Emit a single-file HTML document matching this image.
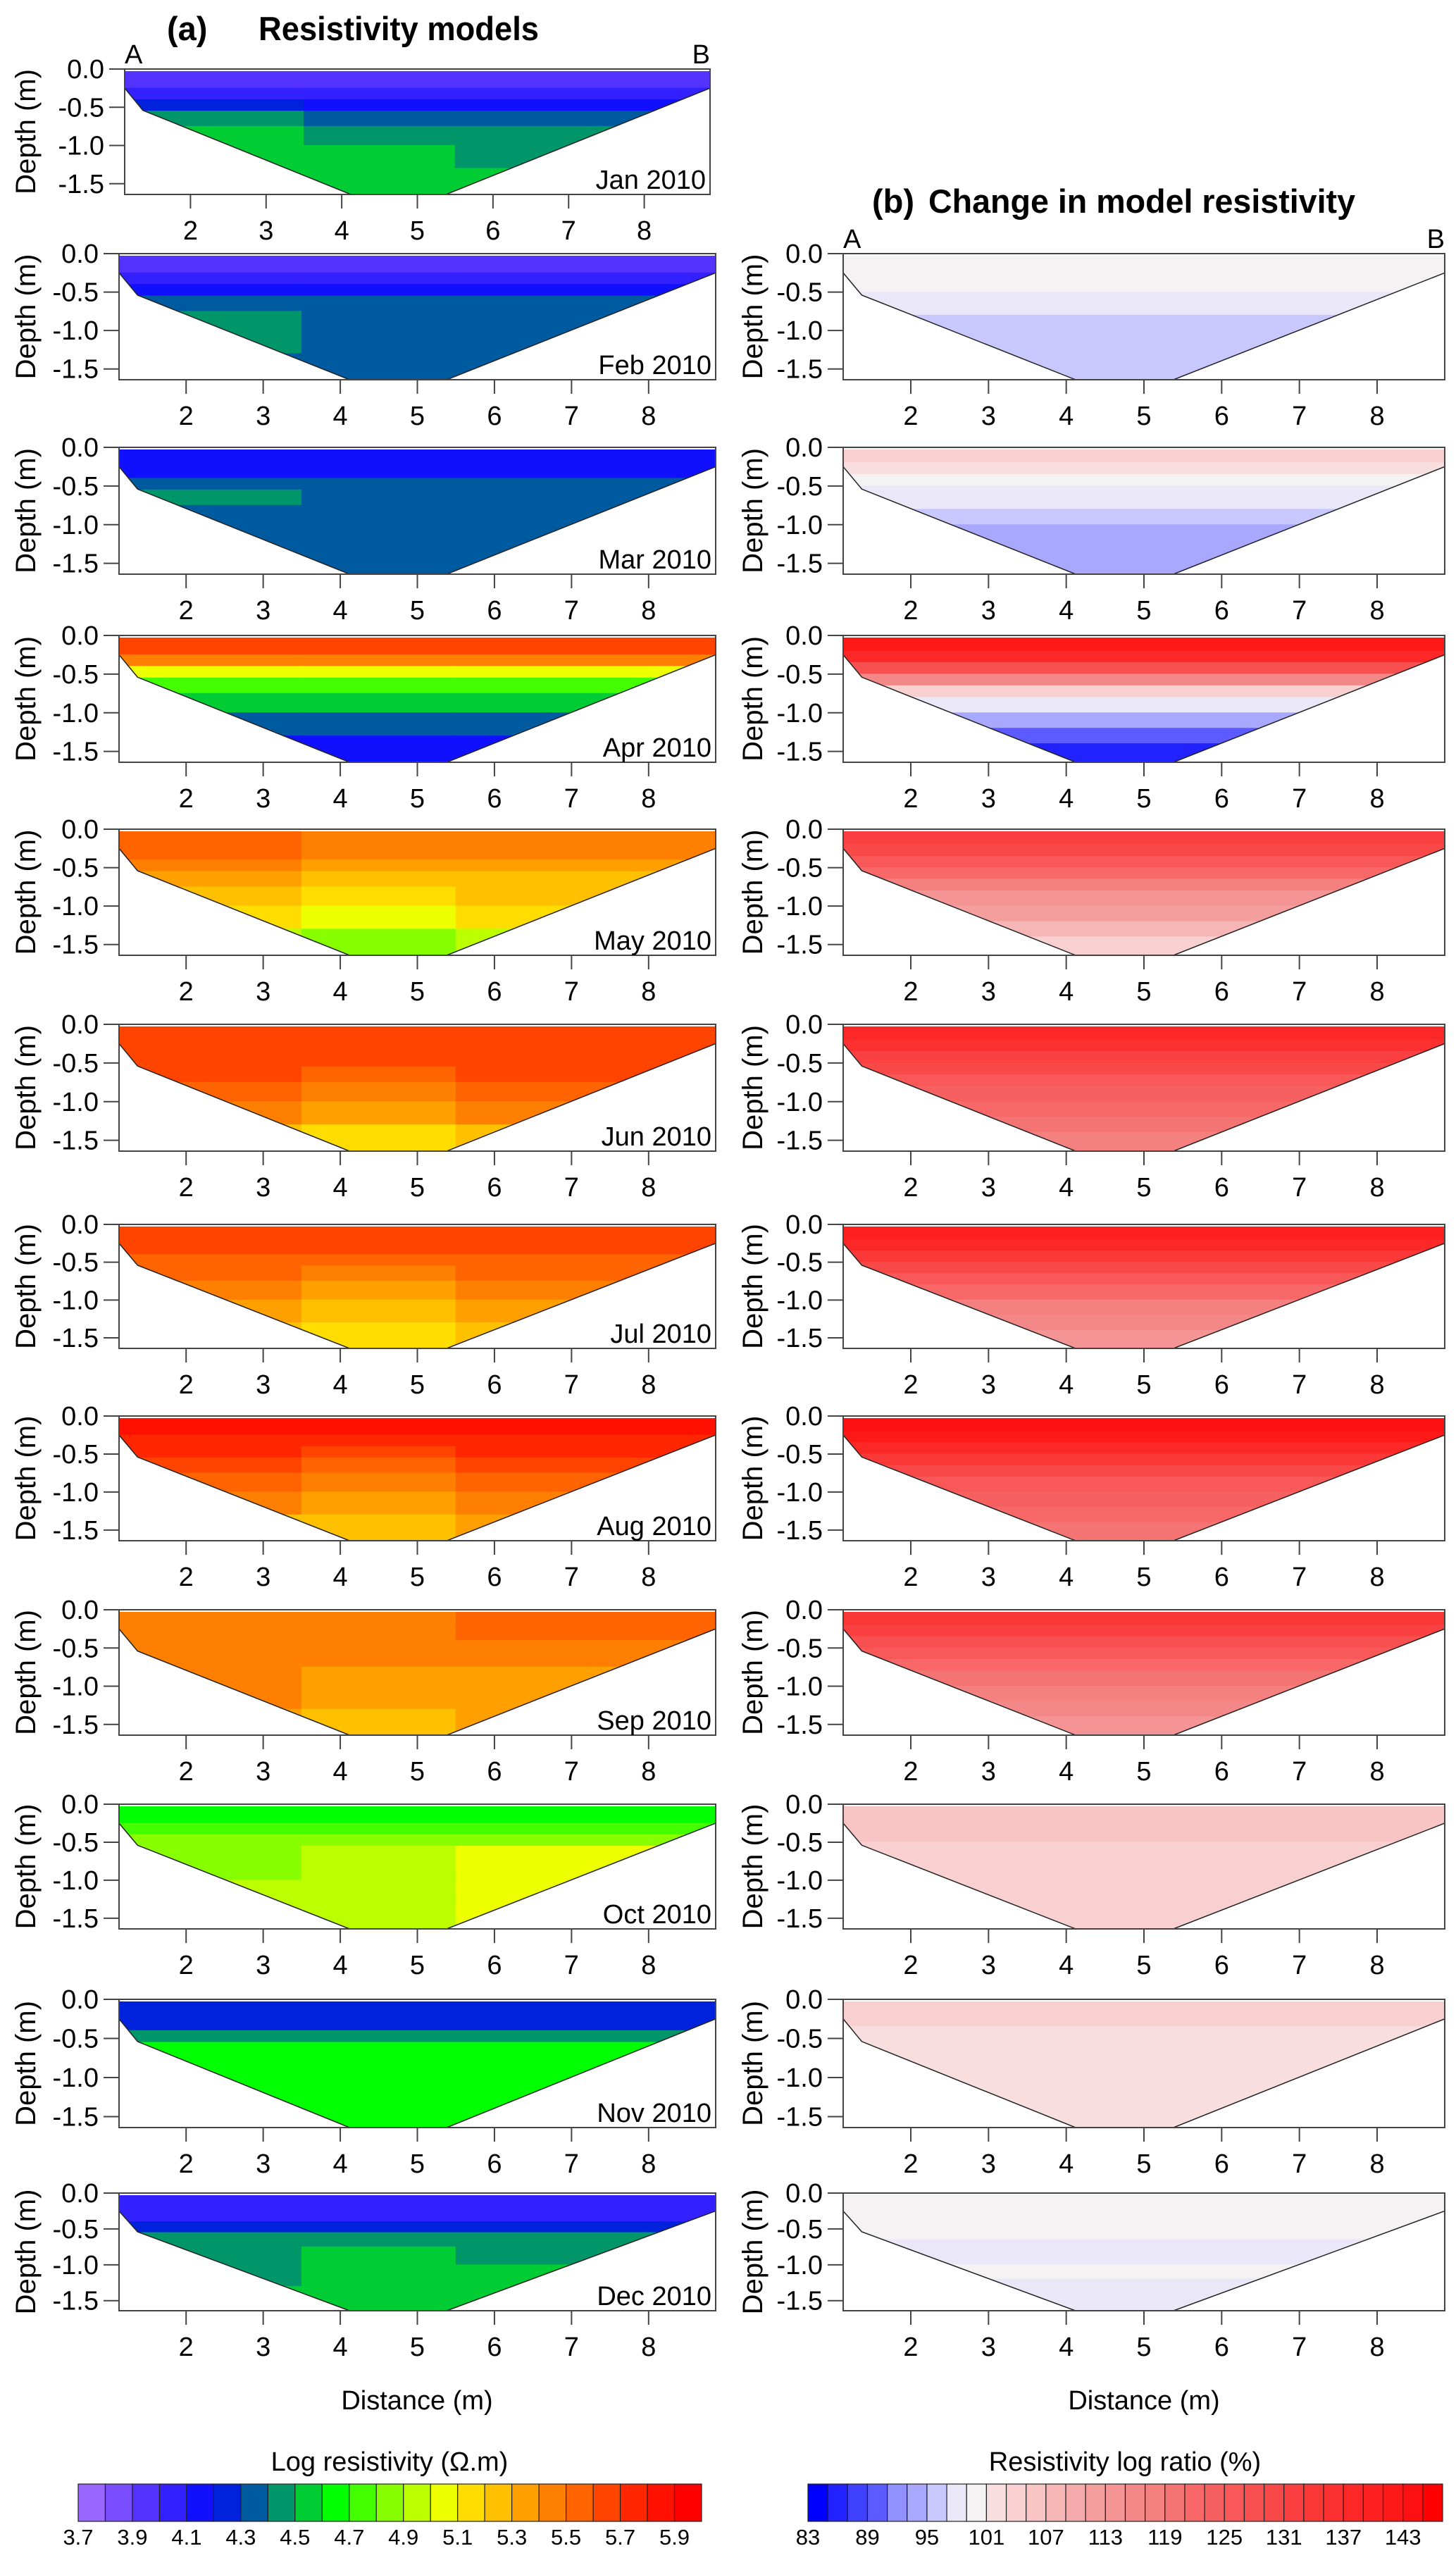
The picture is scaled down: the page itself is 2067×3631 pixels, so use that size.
<!DOCTYPE html>
<html><head><meta charset="utf-8"><style>
html,body{margin:0;padding:0;background:#fff;}
svg{display:block;font-family:"Liberation Sans",Arial,sans-serif;}
</style></head><body>
<svg id="fig" width="2067" height="3631" viewBox="0 0 2067 3631" xmlns="http://www.w3.org/2000/svg">
<text x="237" y="57" font-size="47" font-weight="bold">(a)</text>
<text x="367" y="57" font-size="47" font-weight="bold" textLength="398" lengthAdjust="spacingAndGlyphs">Resistivity models</text>
<text x="1238" y="302" font-size="47" font-weight="bold">(b)</text>
<text x="1318" y="302" font-size="47" font-weight="bold" textLength="606" lengthAdjust="spacingAndGlyphs">Change in model resistivity</text>
<g id="panels"></g>
</svg>
<script>
// ---- data ----
const months = ["Jan 2010","Feb 2010","Mar 2010","Apr 2010","May 2010","Jun 2010","Jul 2010","Aug 2010","Sep 2010","Oct 2010","Nov 2010","Dec 2010"];
const xTicks = [2,3,4,5,6,7,8];
const yTicks = [0.0,-0.5,-1.0,-1.5];
const yTickLabels = ["0.0","-0.5","-1.0","-1.5"];
const xDomain = [1.13, 8.87];
const depthMax = 1.64;
const outlineX = [1.13, 1.37, 4.12, 5.38, 8.87];
const outlineDepth = [0.25, 0.54, 1.64, 1.64, 0.25];
const leftRowDepths = [0, 0.25, 0.4, 0.55, 0.75, 1.0, 1.3, 1.64];
const leftColX = [1.13, 3.5, 5.5, 8.87];
const resJan = [[3.95,3.95,3.95],[4.05,4.05,4.05],[4.25,4.15,4.15],[4.45,4.35,4.35],[4.55,4.45,4.45],[4.55,4.55,4.45],[4.55,4.55,4.55]];
const resFeb = [[3.95,3.95,3.95],[4.05,4.05,4.05],[4.15,4.15,4.15],[4.35,4.35,4.35],[4.45,4.35,4.35],[4.45,4.35,4.35],[4.35,4.35,4.35]];
const resMar = [[4.15,4.15,4.15],[4.15,4.15,4.15],[4.35,4.35,4.35],[4.45,4.35,4.35],[4.35,4.35,4.35],[4.35,4.35,4.35],[4.35,4.35,4.35]];
const resApr = [[5.65,5.65,5.65],[5.45,5.45,5.45],[5.05,5.05,5.05],[4.75,4.75,4.75],[4.55,4.55,4.55],[4.35,4.35,4.35],[4.15,4.15,4.15]];
const resMay = [[5.55,5.45,5.45],[5.55,5.45,5.45],[5.45,5.35,5.35],[5.35,5.25,5.25],[5.25,5.15,5.25],[5.15,5.05,5.15],[4.95,4.85,4.95]];
const resJun = [[5.65,5.65,5.65],[5.65,5.65,5.65],[5.65,5.65,5.65],[5.65,5.55,5.65],[5.55,5.45,5.55],[5.45,5.35,5.45],[5.25,5.15,5.25]];
const resJul = [[5.65,5.65,5.65],[5.65,5.65,5.65],[5.55,5.55,5.55],[5.55,5.45,5.55],[5.45,5.35,5.45],[5.35,5.25,5.35],[5.25,5.15,5.25]];
const resAug = [[5.85,5.85,5.85],[5.75,5.75,5.75],[5.75,5.65,5.75],[5.65,5.55,5.65],[5.55,5.45,5.55],[5.45,5.35,5.45],[5.25,5.2,5.3]];
const resSep = [[5.45,5.45,5.55],[5.45,5.45,5.55],[5.45,5.45,5.45],[5.45,5.45,5.45],[5.45,5.35,5.35],[5.45,5.35,5.35],[5.35,5.25,5.35]];
const resOct = [[4.65,4.65,4.65],[4.75,4.75,4.75],[4.85,4.85,4.85],[4.85,4.95,5.05],[4.85,4.95,5.05],[4.95,4.95,5.05],[4.95,4.95,5.05]];
const resNov = [[4.25,4.25,4.25],[4.25,4.25,4.25],[4.45,4.45,4.45],[4.65,4.65,4.65],[4.65,4.65,4.65],[4.65,4.65,4.65],[4.65,4.65,4.65]];
const resDec = [[4.05,4.05,4.05],[4.05,4.05,4.05],[4.25,4.25,4.25],[4.45,4.45,4.45],[4.45,4.55,4.45],[4.45,4.55,4.55],[4.55,4.55,4.55]];
const rightRowDepths = [0, 0.2, 0.35, 0.5, 0.65, 0.8, 1.0, 1.2, 1.4, 1.64];
const ratioFeb = [100,100,99,98,97,96,95,95,95];
const ratioMar = [103,101,100,98,97,95,94,93,93];
const ratioApr = [141,137,127,115,103,97,93,89,85];
const ratioMay = [131,129,125,121,117,113,111,107,103];
const ratioJun = [137,135,131,129,125,123,121,119,117];
const ratioJul = [139,137,133,129,125,121,117,115,113];
const ratioAug = [143,141,137,133,129,125,123,121,119];
const ratioSep = [133,131,127,125,121,119,117,115,113];
const ratioOct = [106,106,105,104,104,104,104,104,104];
const ratioNov = [103,103,102,102,102,102,102,101,101];
const ratioDec = [100,99,99,99,98,98,99,98,98];
const resColors = ["#9966ff","#7a4dff","#5533ff","#3320ff","#1010ff","#0022dd","#005aa0","#00966a","#00cc33","#00ff00","#44ff00","#88ff00","#bbff00","#eeff00","#ffdd00","#ffc000","#ffa000","#ff8000","#ff6400","#ff4400","#ff2600","#ff1000","#ff0000"];
const ratioColors = ["#0000ff","#2222ff","#4040ff","#5b5bff","#9090ff","#a8a8ff","#c8c8ff","#eae8f8","#f4f2f2","#f8dede","#f8d0d0","#f8c4c4","#f6b6b6","#f4aaaa","#f49e9e","#f49494","#f48888","#f48080","#f47474","#f86868","#f66060","#f85858","#f85050","#f84848","#fa4040","#fa3838","#fc3030","#fc2828","#fc2020","#fe1818","#fe1010","#ff0000"];
const resTickLabels = ["3.7","3.9","4.1","4.3","4.5","4.7","4.9","5.1","5.3","5.5","5.7","5.9"];
const ratioTickLabels = ["83","89","95","101","107","113","119","125","131","137","143"];
const resMin = 3.7, resStep = 0.1;
const ratioMin = 83, ratioStep = 2;
const leftData = [resJan,resFeb,resMar,resApr,resMay,resJun,resJul,resAug,resSep,resOct,resNov,resDec];
const rightData = [null,ratioFeb,ratioMar,ratioApr,ratioMay,ratioJun,ratioJul,ratioAug,ratioSep,ratioOct,ratioNov,ratioDec];
// ---- layout ----
const tops = [98,360,635,902,1177,1454,1738,2010,2285,2561,2838,3113];
const bottoms = [276,539,815,1082,1356,1634,1914,2187,2463,2738,3020,3280];
const NS = "http://www.w3.org/2000/svg";
const root = document.getElementById('panels');
function mk(tag, attrs, parent){const e=document.createElementNS(NS,tag);for(const k in attrs)e.setAttribute(k,attrs[k]);(parent||root).appendChild(e);return e;}
function txt(s, attrs, parent){const e=mk('text',attrs,parent);e.textContent=s;return e;}
let clipId=0;
function panel(side, i){
  const L = side==='left' ? (i===0?177:169) : 1197;
  const R = side==='left' ? (i===0?1008:1016) : 2051;
  const T = tops[i], B = bottoms[i];
  const sx = v => L + (v - xDomain[0])/(xDomain[1]-xDomain[0])*(R-L);
  const sy = d => T + (d/depthMax)*(B-T);
  const g = mk('g',{});
  
  
  const cid='clip'+(clipId++);
  const cp = mk('clipPath',{id:cid},g);
  let pts = outlineX.map((x,k)=>sx(x)+','+sy(outlineDepth[k])).join(' ');
  pts = sx(xDomain[0])+','+(T+3)+' '+pts+' '+sx(xDomain[1])+','+(T+3);
  mk('polygon',{points:pts},cp);
  const fill = mk('g',{'clip-path':'url(#'+cid+')'},g);
  
  
  if(side==='left'){
    const data = leftData[i];
    for(let r=0;r<data.length;r++){
      for(let c=0;c<data[r].length;c++){
        const idx = Math.max(0,Math.min(resColors.length-1,Math.floor((data[r][c]-resMin)/resStep+1e-6)));
        const x0=sx(leftColX[c]), x1=sx(leftColX[c+1]), y0=sy(leftRowDepths[r]), y1=sy(leftRowDepths[r+1]);
        const rc = mk('rect',{x:x0-0.5,y:y0-0.5,width:x1-x0+1,height:y1-y0+1,fill:resColors[idx]},fill);
        
        
      }
    }
  } else {
    const data = rightData[i];
    for(let r=0;r<data.length;r++){
      const idx = Math.max(0,Math.min(ratioColors.length-1,Math.floor((data[r]-ratioMin)/ratioStep)));
      const y0=sy(rightRowDepths[r]), y1=sy(rightRowDepths[r+1]);
      const rc = mk('rect',{x:L,y:y0-0.5,width:R-L,height:y1-y0+1,fill:ratioColors[idx]},fill);
      
      
    }
  }
  const ol = mk('polyline',{points:outlineX.map((x,k)=>sx(x)+','+sy(outlineDepth[k])).join(' '),fill:'none',stroke:'#222','stroke-width':1.5},g);
  
  
  const fr = mk('rect',{x:L,y:T,width:R-L,height:B-T,fill:'none',stroke:'#444','stroke-width':2},g);
  
  
  yTicks.forEach((v,k)=>{
    const y = sy(-v);
    const tk = mk('line',{x1:L-22,x2:L,y1:y,y2:y,stroke:'#444','stroke-width':2},g);
    
    
    const tl = txt(yTickLabels[k],{x:L-29,y:y+13,'font-size':38,'text-anchor':'end'},g);
    
    
  });
  xTicks.forEach(v=>{
    const x = sx(v);
    const tk = mk('line',{x1:x,x2:x,y1:B,y2:B+20,stroke:'#444','stroke-width':2},g);
    
    
    const tl = txt(String(v),{x:x,y:B+64,'font-size':38,'text-anchor':'middle'},g);
    
    
  });
  const yl = txt('Depth (m)',{x:0,y:0,'font-size':40,'text-anchor':'middle',transform:'translate('+(side==='left'?50:1082)+','+((T+B)/2)+') rotate(-90)'},g);
  
  
  if(side==='left'){
    const ml = txt(months[i],{x:R-6,y:B-8,'font-size':38,'text-anchor':'end'},g);
    
    
  }
  if((side==='left'&&i===0)||(side==='right'&&i===1)){
    const a = txt('A',{x:L,y:T-8,'font-size':38},g);
    
    
    const b = txt('B',{x:R,y:T-8,'font-size':38,'text-anchor':'end'},g);
    
    
  }
}
for(let i=0;i<12;i++){ panel('left',i); if(i>0) panel('right',i); }
const d1 = txt('Distance (m)',{x:592,y:3420,'font-size':38,'text-anchor':'middle'});


const d2 = txt('Distance (m)',{x:1624,y:3420,'font-size':38,'text-anchor':'middle'});


function colorbar(name, colors, left, width, labels, every, title, titleX){
  const g = mk('g',{});
  
  
  const cw = width/colors.length, T=3526, H=53;
  colors.forEach((c,k)=>{
    const r = mk('rect',{x:left+k*cw,y:T,width:cw,height:H,fill:c,stroke:'#222','stroke-width':1.2},g);
    
    
  });
  labels.forEach((s,k)=>{
    const t = txt(s,{x:left+k*every*cw,y:3612,'font-size':31,'text-anchor':'middle'},g);
    
    
  });
  const tt = txt(title,{x:titleX,y:3507,'font-size':38,'text-anchor':'middle'},g);
  
  
}
colorbar('resistivity-colorbar', resColors, 111, 885, resTickLabels, 2, 'Log resistivity (\u03A9.m)', 553);
colorbar('ratio-colorbar', ratioColors, 1147, 901, ratioTickLabels, 3, 'Resistivity log ratio (%)', 1597);
</script>
</body></html>
